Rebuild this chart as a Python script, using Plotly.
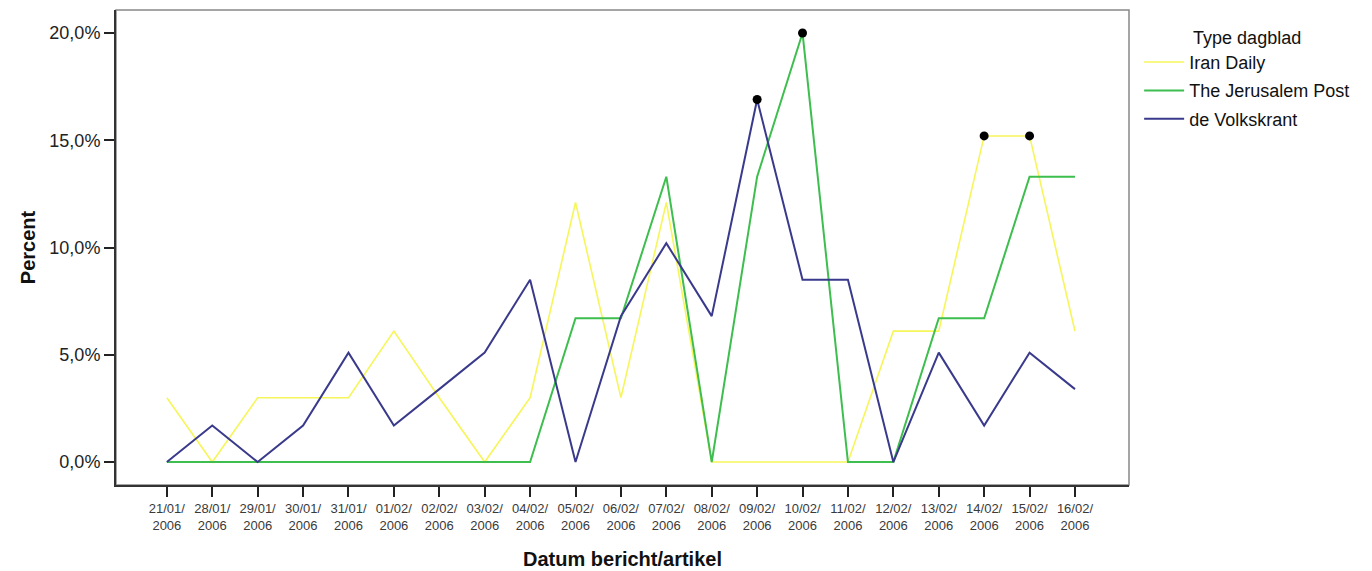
import plotly.graph_objects as go

dates = ["21/01/2006", "28/01/2006", "29/01/2006", "30/01/2006", "31/01/2006",
         "01/02/2006", "02/02/2006", "03/02/2006", "04/02/2006", "05/02/2006",
         "06/02/2006", "07/02/2006", "08/02/2006", "09/02/2006", "10/02/2006",
         "11/02/2006", "12/02/2006", "13/02/2006", "14/02/2006", "15/02/2006",
         "16/02/2006"]

iran_daily = [3.0, 0.0, 3.0, 3.0, 3.0, 6.1, 3.0, 0.0, 3.0, 12.1, 3.0,
              12.1, 0.0, 0.0, 0.0, 0.0, 6.1, 6.1, 15.2, 15.2, 6.1]
jerusalem_post = [0.0, 0.0, 0.0, 0.0, 0.0, 0.0, 0.0, 0.0, 0.0, 6.7, 6.7,
                  13.3, 0.0, 13.3, 20.0, 0.0, 0.0, 6.7, 6.7, 13.3, 13.3]
volkskrant = [0.0, 1.7, 0.0, 1.7, 5.1, 1.7, 3.4, 5.1, 8.5, 0.0, 6.8,
              10.2, 6.8, 16.9, 8.5, 8.5, 0.0, 5.1, 1.7, 5.1, 3.4]

series_names = ["Iran Daily", "The Jerusalem Post", "de Volkskrant"]
y_ticks = [0, 5, 10, 15, 20]
y_tick_labels = ["0,0%", "5,0%", "10,0%", "15,0%", "20,0%"]

colors = ["#F6F65A", "#3DBE4E", "#3A3A8C"]
widths = [1.6, 2.0, 2.0]

x_idx = list(range(len(dates)))
tick_text = [d[:6] + "<br>" + d[6:] for d in dates]

fig = go.Figure()
all_series = [iran_daily, jerusalem_post, volkskrant]
for name, vals, c, w in zip(series_names, all_series, colors, widths):
    fig.add_trace(go.Scatter(x=x_idx, y=vals, mode="lines", name=name,
                             legendgroup=name,
                             line=dict(color=c, width=w)))

# peak markers (maximum of each series)
px, py = [], []
for vals in all_series:
    m = max(vals)
    for i, v in enumerate(vals):
        if v == m:
            px.append(i)
            py.append(v)
fig.add_trace(go.Scatter(x=px, y=py, mode="markers", showlegend=False,
                         marker=dict(color="black", size=9)))

font = "Liberation Sans, Arial, sans-serif"
fig.update_layout(
    width=1372, height=571,
    margin=dict(l=108, r=251, t=2, b=94),
    paper_bgcolor="white", plot_bgcolor="white",
    font=dict(family=font, color="#222222"),
    showlegend=True,
    legend=dict(x=1.01, xanchor="left", y=0.978, yanchor="top",
                font=dict(size=18, color="#111111"),
                title=dict(text="Type dagblad", side="top center",
                           font=dict(size=18, color="#111111")),
                traceorder="grouped", tracegroupgap=2,
                itemwidth=40, bgcolor="rgba(0,0,0,0)"),
    xaxis=dict(range=[-1.12, 21.19], tickmode="array", tickvals=x_idx,
               ticktext=tick_text, ticks="outside", ticklen=10,
               tickwidth=2, tickcolor="#222222",
               tickfont=dict(size=13, color="#3a3a3a", family=font),
               showgrid=False, zeroline=False,
               showline=True, linecolor="#333333", linewidth=2, mirror=False,
               title=dict(text="<b>Datum bericht/artikel</b>",
                          font=dict(size=20, color="#111111"), standoff=20)),
    yaxis=dict(range=[-1.07, 21.07], tickmode="array", tickvals=y_ticks,
               ticktext=y_tick_labels, ticks="outside", ticklen=10,
               tickwidth=2, tickcolor="#222222",
               tickfont=dict(size=18, color="#222222", family=font),
               showgrid=False, zeroline=False,
               showline=True, linecolor="#333333", linewidth=2,
               title=dict(text="<b>Percent</b>",
                          font=dict(size=20, color="#111111"), standoff=8)),
    shapes=[dict(type="rect", xref="paper", yref="paper", x0=0, y0=0, x1=1, y1=1,
                 line=dict(color="#888888", width=1.5), layer="below")],
)

fig.write_html("out.html")
